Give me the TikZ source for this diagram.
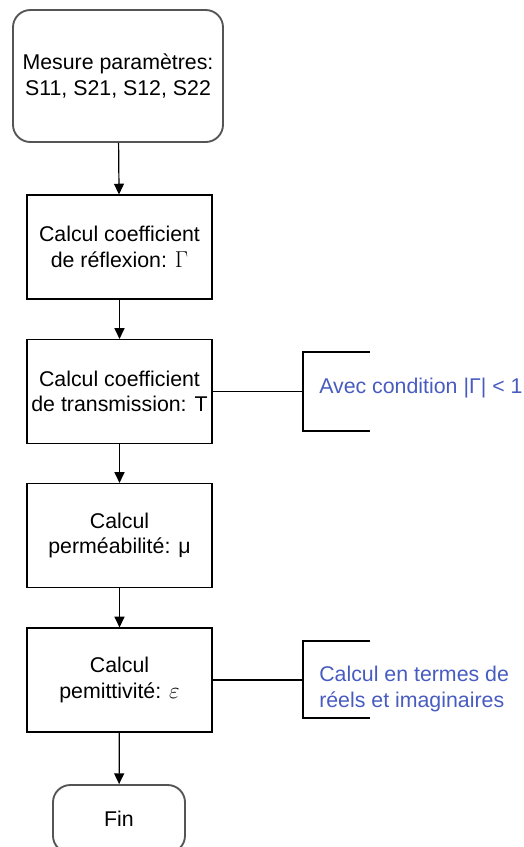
\documentclass[tikz,border=0pt]{standalone}
\usepackage{amsmath,amssymb}
\usepackage{fontspec}
\setmainfont{Liberation Sans}
\usepackage{tikz}
\usetikzlibrary{positioning,arrows.meta}
\usepackage{xcolor}
\definecolor{noteblue}{RGB}{72,92,192}
\definecolor{edgegray}{RGB}{85,85,85}

\begin{document}
\begin{tikzpicture}[x=0.75pt,y=-0.75pt,
  stepbox/.style={draw, rectangle, line width=0.9pt, minimum width=185*0.75pt, minimum height=104*0.75pt, align=center, inner sep=0pt},
  termbox/.style={draw=edgegray, rectangle, line width=1.4pt, rounded corners=13pt, align=center, inner sep=0pt},
  flow/.style={line width=0.9pt, -{Triangle[width=7.5pt,length=8pt]}},
  brack/.style={line width=0.9pt},
  note/.style={anchor=west, align=left, text=noteblue, inner sep=0pt},
  every node/.append style={font=\fontsize{16}{19}\selectfont}]
  \useasboundingbox (0,0) rectangle (524,847);

  % start / end
  \node[termbox, minimum width=210*0.75pt, minimum height=132*0.75pt] (mesure) at (118,76) {Mesure paramètres:\\S11, S21, S12, S22};
  \node[termbox, minimum width=132*0.75pt, minimum height=68*0.75pt] (fin) at (119,819) {Fin};

  % steps
  \node[stepbox] (gamma) at (119.5,247) {Calcul coefficient\\de réflexion: $\Gamma$};
  \node[stepbox] (trans) at (119.5,391.5) {Calcul coefficient\\de transmission: $\mathrm{T}$};
  \node[stepbox] (perm) at (119.5,535.5) {Calcul\\perméabilité: μ};
  \node[stepbox] (eps) at (119.5,680) {Calcul\\pemittivité: $\varepsilon$};

  \draw[flow] (mesure) -- (gamma);
  \draw[flow] (gamma) -- (trans);
  \draw[flow] (trans) -- (perm);
  \draw[flow] (perm) -- (eps);
  \draw[flow] (eps) -- (fin);

  % annotation on T
  \coordinate (br1) at (303,391.5);
  \draw[brack] (trans.east) -- (br1);
  \draw[brack] (370,352) -- (303,352) -- (303,431) -- (370,431);
  \node[note] (cond) at (319,388) {Avec condition |Γ| < 1};

  % annotation on epsilon
  \coordinate (br2) at (303,680);
  \draw[brack] (eps.east) -- (br2);
  \draw[brack] (370,641) -- (303,641) -- (303,718) -- (370,718);
  \node[note] (reel) at (319,689) {Calcul en termes de\\réels et imaginaires};
\end{tikzpicture}
\end{document}
